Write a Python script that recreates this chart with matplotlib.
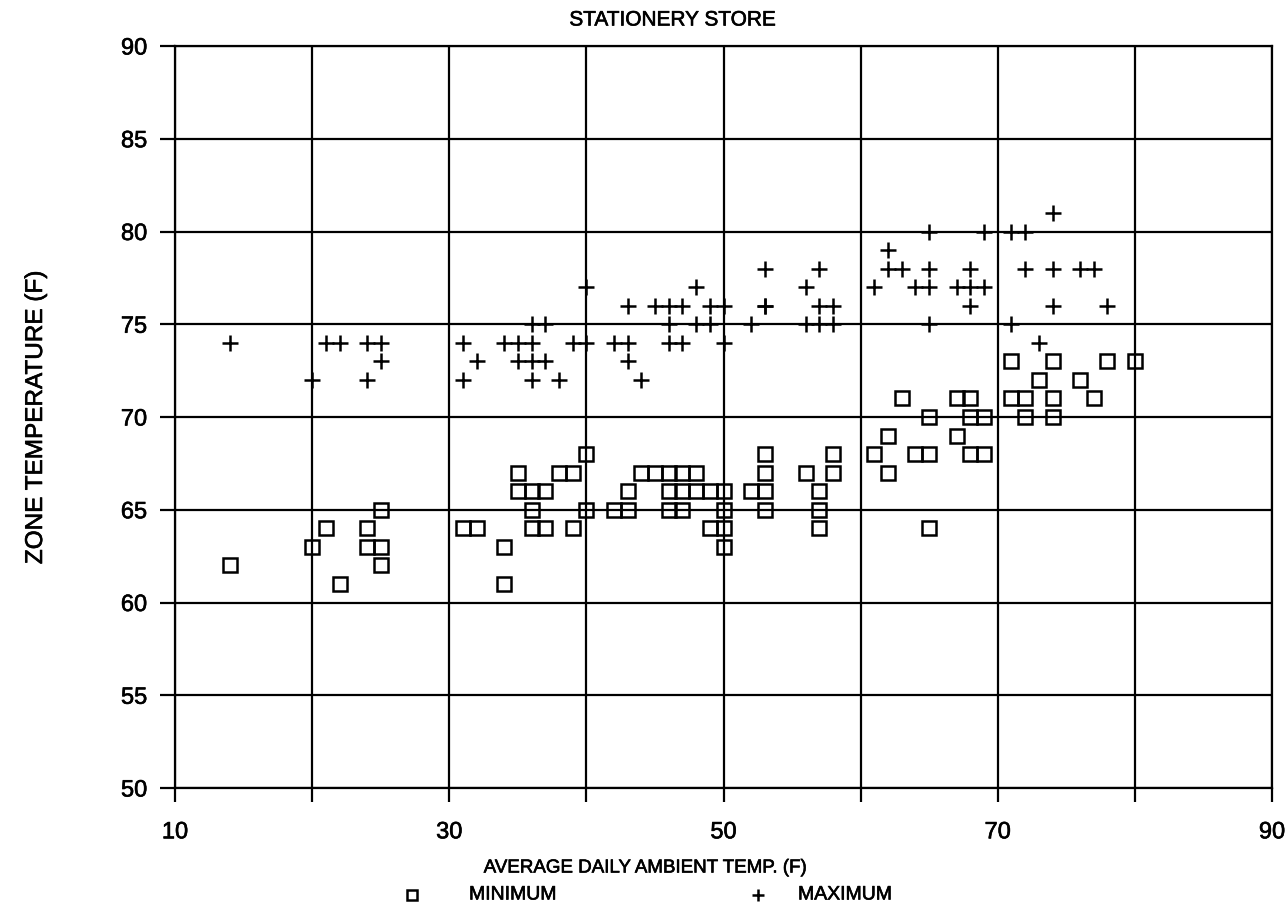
import matplotlib
matplotlib.use("Agg")
import matplotlib.pyplot as plt
import matplotlib.patheffects as pe
from matplotlib.lines import Line2D

plt.rcParams['font.family'] = ['Liberation Sans', 'DejaVu Sans']

# daily minimum zone temperature vs average ambient temperature
min_ambient = [14, 20, 21, 22, 24, 24, 25, 25, 25, 31, 32, 34, 34, 35, 35,
               36, 36, 36, 37, 37, 38, 39, 39, 40, 40, 42, 43, 43, 44, 45,
               46, 46, 46, 47, 47, 47, 48, 48, 49, 49, 50, 50, 50, 50, 52,
               53, 53, 53, 53, 56, 57, 57, 57, 58, 58, 61, 62, 62, 63, 64,
               65, 65, 65, 67, 67, 68, 68, 68, 69, 69, 71, 71, 72, 72, 73,
               74, 74, 74, 76, 77, 78, 80]
min_zone = [62, 63, 64, 61, 64, 63, 65, 63, 62, 64, 64, 63, 61, 67, 66,
            66, 65, 64, 66, 64, 67, 67, 64, 68, 65, 65, 66, 65, 67, 67,
            67, 66, 65, 67, 66, 65, 67, 66, 66, 64, 66, 65, 64, 63, 66,
            68, 67, 66, 65, 67, 66, 65, 64, 68, 67, 68, 69, 67, 71, 68,
            70, 68, 64, 71, 69, 71, 70, 68, 70, 68, 73, 71, 71, 70, 72,
            73, 71, 70, 72, 71, 73, 73]

# daily maximum zone temperature vs average ambient temperature
max_ambient = [14, 20, 21, 22, 24, 24, 25, 25, 31, 31, 32, 34, 35, 35, 36,
               36, 36, 36, 37, 37, 38, 39, 40, 40, 42, 43, 43, 43, 44, 45,
               46, 46, 46, 47, 47, 48, 48, 49, 49, 50, 50, 52, 53, 53, 53,
               56, 56, 57, 57, 57, 58, 58, 61, 62, 62, 63, 64, 65, 65, 65,
               65, 67, 68, 68, 68, 69, 69, 71, 71, 72, 72, 73, 74, 74, 74,
               76, 77, 78]
max_zone = [74, 72, 74, 74, 74, 72, 74, 73, 74, 72, 73, 74, 74, 73, 75,
            74, 73, 72, 75, 73, 72, 74, 77, 74, 74, 76, 74, 73, 72, 76,
            76, 75, 74, 76, 74, 77, 75, 76, 75, 76, 74, 75, 78, 76, 76,
            77, 75, 78, 76, 75, 76, 75, 77, 79, 78, 78, 77, 80, 78, 77,
            75, 77, 78, 77, 76, 80, 77, 80, 75, 80, 78, 74, 81, 78, 76,
            78, 78, 76]

x_ticks = [10, 20, 30, 40, 50, 60, 70, 80, 90]
x_labels = ['10', '', '30', '', '50', '', '70', '', '90']
y_ticks = [50, 55, 60, 65, 70, 75, 80, 85, 90]

# slightly thicker pen look for all lettering
heavy = [pe.withStroke(linewidth=0.45, foreground='black')]

W, H = 1287, 917
fig = plt.figure(figsize=(W / 100, H / 100), dpi=100)
ax = fig.add_axes([175 / W, 1 - 788 / H, (1272 - 175) / W, (788 - 46) / H])

ax.plot(min_ambient, min_zone, linestyle='none', marker='s', ms=9.4,
        mfc='none', mec='black', mew=1.8, zorder=3)
ax.plot(max_ambient, max_zone, linestyle='none', marker='+', ms=11.5,
        mec='black', mew=1.8, zorder=3)

ax.set_xlim(10, 90)
ax.set_ylim(50, 90)
ax.set_xticks(x_ticks)
ax.set_xticklabels(x_labels)
ax.set_yticks(y_ticks)
ax.grid(True, color='black', linewidth=1.6)
for s in ax.spines.values():
    s.set_linewidth(1.6)
ax.tick_params(axis='x', direction='out', length=10, width=1.6, pad=14,
               labelsize=17)
ax.tick_params(axis='y', direction='out', length=11, width=1.6, pad=9,
               labelsize=17)
for t in ax.get_xticklabels() + ax.get_yticklabels():
    t.set_path_effects(heavy)

fig.text(673 / W, 1 - 20 / H, 'STATIONERY STORE', ha='center', va='center',
         fontsize=15, path_effects=heavy)
fig.text(36 / W, 1 - 418 / H, 'ZONE TEMPERATURE (F)', rotation=90,
         ha='center', va='center', fontsize=17.5, path_effects=heavy)
fig.text(645 / W, 1 - 868 / H, 'AVERAGE DAILY AMBIENT TEMP. (F)',
         ha='center', va='center', fontsize=13.5, path_effects=heavy)

# key under the axis title
leg_y = 1 - 895 / H
fig.add_artist(Line2D([412 / W], [leg_y], marker='s', ms=7.5, mfc='none',
                      mec='black', mew=1.8, transform=fig.transFigure))
fig.text(469 / W, leg_y, 'MINIMUM', ha='left', va='center', fontsize=14,
         path_effects=heavy)
fig.add_artist(Line2D([758 / W], [leg_y], marker='+', ms=9, mec='black',
                      mew=1.8, transform=fig.transFigure))
fig.text(798 / W, leg_y, 'MAXIMUM', ha='left', va='center', fontsize=14,
         path_effects=heavy)

fig.savefig('out.png', dpi=100)
